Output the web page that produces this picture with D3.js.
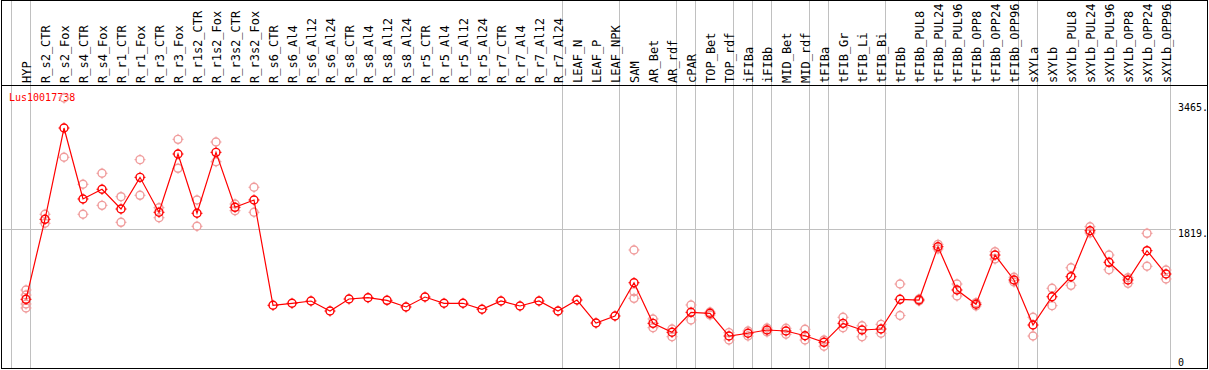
<!DOCTYPE html>
<html>
<head>
<meta charset="utf-8">
<script src="https://cdn.jsdelivr.net/npm/d3@7"></script>
<style>
  body { margin: 0; background: #fff; }
  svg { display: block; }
  text { font-family: "DejaVu Sans Mono", monospace; }
</style>
</head>
<body>
<svg id="chart" width="1209" height="370"></svg>
<script>
const geneName = "Lus10017738";

const samples = [
    "HYP", "R_s2_CTR", "R_s2_Fox", "R_s4_CTR", "R_s4_Fox", "R_r1_CTR", "R_r1_Fox",
    "R_r3_CTR", "R_r3_Fox", "R_r1s2_CTR", "R_r1s2_Fox", "R_r3s2_CTR", "R_r3s2_Fox",
    "R_s6_CTR", "R_s6_Al4", "R_s6_Al12", "R_s6_Al24", "R_s8_CTR", "R_s8_Al4",
    "R_s8_Al12", "R_s8_Al24", "R_r5_CTR", "R_r5_Al4", "R_r5_Al12", "R_r5_Al24",
    "R_r7_CTR", "R_r7_Al4", "R_r7_Al12", "R_r7_Al24", "LEAF_N", "LEAF_P", "LEAF_NPK",
    "SAM", "AR_Bet", "AR_rdf", "cPAR", "TOP_Bet", "TOP_rdf", "iFIBa", "iFIBb",
    "MID_Bet", "MID_rdf", "tFIBa", "tFIB_Gr", "tFIB_Li", "tFIB_Bi", "tFIBb",
    "tFIBb_PUL8", "tFIBb_PUL24", "tFIBb_PUL96", "tFIBb_OPP8", "tFIBb_OPP24", "tFIBb_OPP96",
    "sXYLa", "sXYLb", "sXYLb_PUL8", "sXYLb_PUL24", "sXYLb_PUL96", "sXYLb_OPP8",
    "sXYLb_OPP24", "sXYLb_OPP96"
];

const means = [
    898, 1944, 3138, 2210, 2337, 2079, 2493, 2036, 2798, 2023, 2820, 2101, 2197,
    820, 846, 876, 745, 902, 919, 885, 798, 928, 846, 846, 768, 876, 811, 876, 745,
    889, 588, 680, 1115, 584, 467, 728, 715, 418, 454, 497, 484, 422, 336, 584, 497,
    510, 898, 889, 1586, 1020, 833, 1477, 1151, 562, 932, 1194, 1795, 1382, 1151,
    1534, 1229
];

const replicates = [
    [1020, 954, 837, 785], [2010, 1892], [3530, 2755], [2402, 2010], [2546, 2127],
    [2240, 1905], [2724, 2258], [2096, 1965], [2990, 2611], [2197, 1853], [2955, 2697],
    [2144, 2057], [2363, 2036],
    [], [], [], [], [], [], [], [], [], [], [], [], [], [], [], [],
    [], [], [],
    [1543, 998, 911], [641, 527], [510, 409], [824, 628], [732, 693], [462, 366],
    [484, 418], [523, 471], [519, 441], [506, 366], [366, 284], [663, 527], [553, 409],
    [571, 454], [1098, 686], [902, 876], [1617, 1556], [1098, 941], [854, 811],
    [1521, 1425], [1186, 1124], [663, 418], [1042, 815], [1311, 1081], [1847, 1765],
    [1477, 1285], [1181, 1107], [1761, 1330], [1281, 1164]
];

// first sample of each group (a grey separator is drawn before it)
const groupStarts = ["HYP", "R_s2_CTR", "LEAF_N", "SAM", "cPAR", "TOP_Bet", "iFIBa",
    "iFIBb", "MID_Bet", "tFIBa", "tFIB_Gr", "tFIBb", "sXYLa", "sXYLb"];

const yTicks = [0, 1819, 3465];

const svg = d3.select("#chart");
const W = 1209, H = 370;
const area = { left: 1.5, top: 0.5, right: 1207.5, bottom: 368.5, header: 85.5, plotRight: 1170.5 };

const x = d3.scalePoint().domain(samples).range([26, 1166]);
const y = d3.scaleLinear().domain([0, 3465]).range([368, 103]);
const step = x.step();

// vertical group separators
const sepX = groupStarts.map(s => x(s) - 14.5).concat([x(samples[samples.length - 1]) + step - 14.5]);
svg.append("g")
    .selectAll("line")
    .data(sepX)
    .enter()
    .append("line")
    .attr("x1", d => d).attr("x2", d => d)
    .attr("y1", 0).attr("y2", area.bottom)
    .attr("stroke", "#c0c0c0")
    .attr("stroke-width", 1);

// horizontal grid at middle tick
svg.append("line")
    .attr("x1", area.left).attr("x2", 1176)
    .attr("y1", Math.round(y(1819)) + 0.5).attr("y2", Math.round(y(1819)) + 0.5)
    .attr("stroke", "#c0c0c0");

// frame + header separator
svg.append("rect")
    .attr("x", area.left).attr("y", area.top)
    .attr("width", area.right - area.left).attr("height", area.bottom - area.top)
    .attr("fill", "none").attr("stroke", "#000");
svg.append("line")
    .attr("x1", area.left).attr("x2", area.right)
    .attr("y1", area.header).attr("y2", area.header)
    .attr("stroke", "#000");

// sample labels
svg.append("g")
    .selectAll("text")
    .data(samples)
    .enter()
    .append("text")
    .attr("transform", d => `translate(${x(d) + 4.5}, 83) rotate(-90)`)
    .attr("font-size", 12)
    .attr("fill", "#000")
    .text(d => d);

// y axis labels
const axis = svg.append("g")
    .attr("transform", "translate(1178, 0)")
    .call(d3.axisRight(y).tickValues(yTicks).tickSize(0).tickPadding(0)
        .tickFormat(d => d === 0 ? "0" : d + "."));
axis.select(".domain").remove();
axis.selectAll("text")
    .attr("font-family", "DejaVu Sans Mono")
    .attr("font-size", 10)
    .attr("fill", "#000")
    .attr("dy", d => d === 0 ? "-0.3em" : "0.75em");

// gene name
svg.append("text")
    .attr("x", 9).attr("y", 101)
    .attr("font-size", 10)
    .attr("fill", "#ff0000")
    .text(geneName);

const marker = (g, color) => {
    g.append("circle").attr("r", 4).attr("fill", "none")
        .attr("stroke", color).attr("stroke-width", 1.4);
    g.append("path")
        .attr("d", "M0,-5.5V-3.5M0,3.5V5.5M-5.5,0H-3.5M3.5,0H5.5")
        .attr("stroke", color).attr("stroke-width", 1);
};

// replicate points
const repPts = samples.flatMap((s, i) => replicates[i].map(v => ({ s, v })));
svg.append("g")
    .selectAll("g")
    .data(repPts)
    .enter()
    .append("g")
    .attr("transform", d => `translate(${x(d.s)}, ${y(d.v)})`)
    .each(function () { marker(d3.select(this), "#f09c9c"); });

// mean line
const line = d3.line()
    .x((d, i) => x(samples[i]))
    .y(d => y(d));
svg.append("path")
    .datum(means)
    .attr("d", line)
    .attr("fill", "none")
    .attr("stroke", "#ff0000")
    .attr("stroke-width", 1.2);

// mean points
svg.append("g")
    .selectAll("g")
    .data(means)
    .enter()
    .append("g")
    .attr("transform", (d, i) => `translate(${x(samples[i])}, ${y(d)})`)
    .each(function () { marker(d3.select(this), "#ff0000"); });
</script>
</body>
</html>
